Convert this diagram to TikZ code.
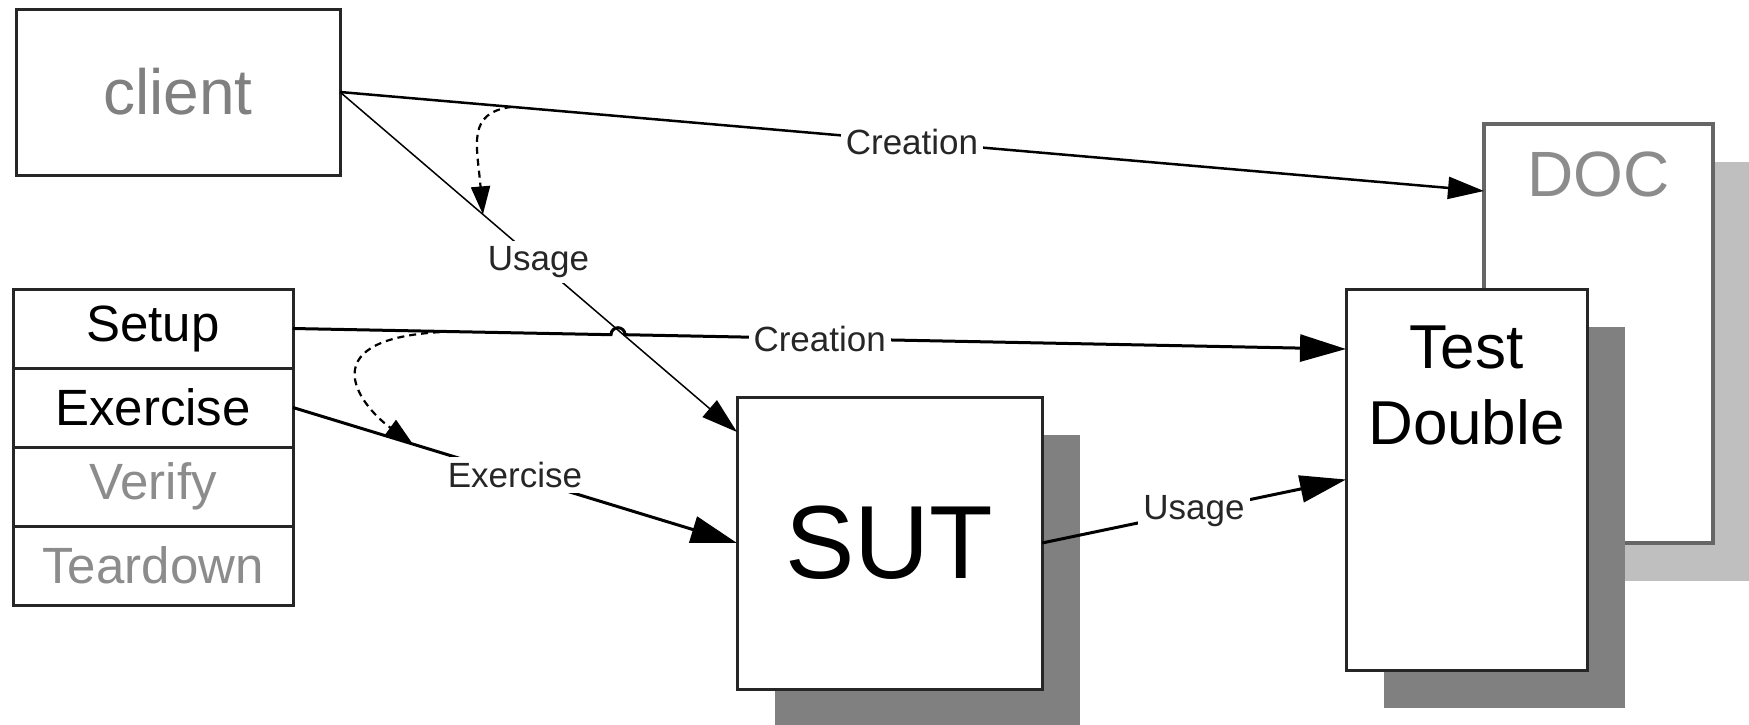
\documentclass[tikz,border=0pt]{standalone}
\usepackage{fontspec}
\setmainfont{Liberation Sans}
\usetikzlibrary{positioning,calc,arrows.meta,shadows}

\begin{document}
\begin{tikzpicture}[x=1pt,y=-1pt,>={Triangle[length=36pt,width=22pt]},line width=2.5pt,box/.style={draw=black!85,line width=3pt,inner sep=0pt,outer sep=0pt,fill=white},row/.style={box,minimum width=280pt,minimum height=79pt,font=\fontsize{51}{60}\selectfont},shade/.style={drop shadow={shadow xshift=38pt,shadow yshift=-38pt,fill=#1,opacity=1}},lbl/.style={fill=white,inner sep=5pt,font=\fontsize{35}{40}\selectfont,text=black!85},big/.style={-{Triangle[length=46pt,width=27pt]},line width=3pt},order/.style={-{Triangle[length=28pt,width=19pt]},line width=2.2pt,dash pattern=on 7pt off 5pt}]
                    \useasboundingbox (0,0) rectangle (1749,724);

                    \node[box,minimum width=324pt,minimum height=166pt,text=black!50,font=\fontsize{64}{72}\selectfont] (1) at (178,92) {client};
                    \node[row,anchor=north west] (2) at (13,289) {Setup};
                    \node[row] (3) [below=0pt of 2] {Exercise};
                    \node[row,text=black!45] (4) [below=0pt of 3] {Verify};
                    \node[row,text=black!45] (5) [below=0pt of 4] {Teardown};
                    \node[box,shade=black!50,minimum width=305pt,minimum height=292pt,font=\fontsize{104}{110}\selectfont] (6) at (889.5,543) {SUT};
                    \node[box,draw=black!60,line width=4pt,shade=black!25,minimum width=229pt,minimum height=419pt,label={[anchor=north,text=black!45,font=\fontsize{64}{72}\selectfont,yshift=-23pt]north:{DOC}}] (7) at (1598.5,333.5) {};
                    \node[box,shade=black!50,minimum width=241pt,minimum height=381pt,label={[anchor=north,align=center,font=\fontsize{62}{76}\selectfont,yshift=-32pt]north:{Test\\Double}}] (8) at (1466.5,479.5) {};

                    \path[->,every node/.style={lbl}]
                        (1.east) edge coordinate[pos=0.15] (a) node {Creation} ([yshift=-67pt]7.north west)
                        (1.east) edge[line width=1.5pt] coordinate[pos=0.36] (b) node {Usage} ([yshift=-35pt]6.north west)
                        (3.east) edge[big] coordinate[pos=0.27] (d) node {Exercise} (6.west)
                        (6.east) edge[big] node {Usage} (8.west)
                        ;
                    \draw[big] (2.east) -- coordinate[pos=0.5] (c) ($(2.east)!0.302!([yshift=-60pt]8.north west)$) arc[start angle=180,end angle=0,radius=7pt] -- node[lbl,pos=0.27] {Creation} ([yshift=-60pt]8.north west);
                    \draw[order] (a) .. controls +(-45,6) and +(-6,-70) .. (b);
                    \draw[order] (c) .. controls +(-145,4) and +(-55,-40) .. (d);
                \end{tikzpicture}
\end{document}
